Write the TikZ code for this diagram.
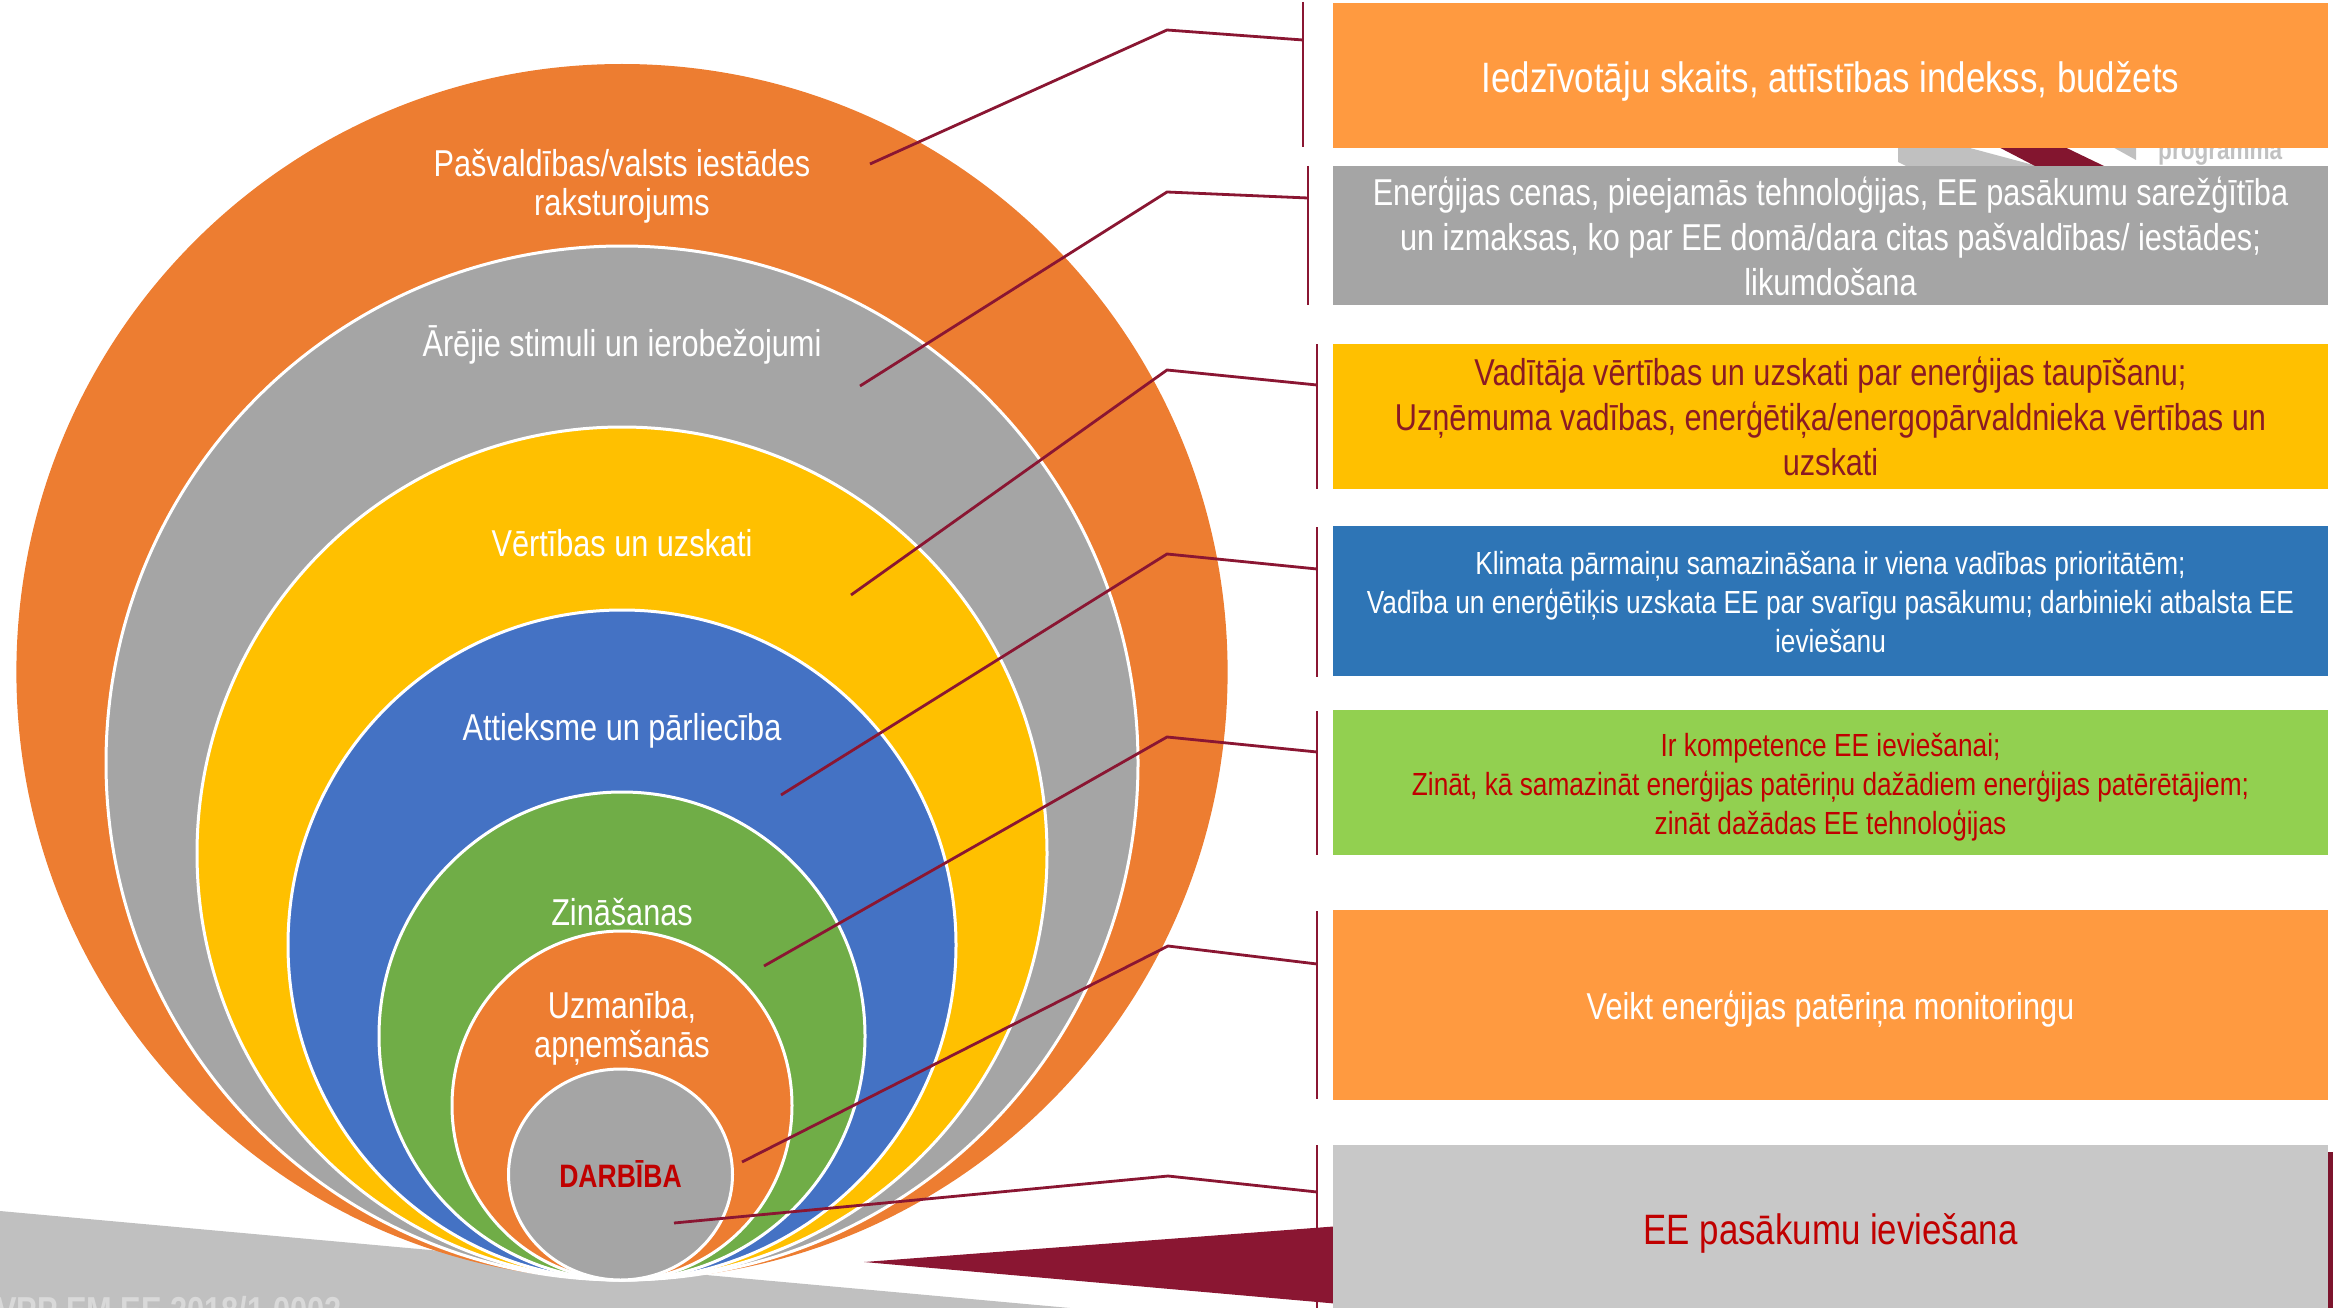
\documentclass[tikz,border=0pt]{standalone}
\usepackage{fontspec}
\setmainfont[FakeStretch=0.82]{Liberation Sans}
\definecolor{ringorange}{HTML}{ED7D31}
\definecolor{ringgray}{HTML}{A5A5A5}
\definecolor{ringyellow}{HTML}{FFC000}
\definecolor{ringblue}{HTML}{4472C4}
\definecolor{ringgreen}{HTML}{70AD47}
\definecolor{boxorange}{HTML}{FF9A40}
\definecolor{boxblue}{HTML}{2E75B6}
\definecolor{boxgreen}{HTML}{92D050}
\definecolor{boxlight}{HTML}{C8C8C8}
\definecolor{maroon}{HTML}{8A1632}
\definecolor{yellowtext}{HTML}{8A1A24}
\definecolor{redtext}{HTML}{C00000}
\definecolor{band}{HTML}{C0C0C0}
\tikzset{
  ring/.style={draw=white,line width=3pt},
  ringlabel/.style={text=white,align=center,inner sep=0pt,font=\fontsize{37.4}{39}\selectfont},
  infobox/.style={rectangle,inner sep=0pt,minimum width=995pt},
  boxtext/.style={inner sep=0pt,align=center},
  leader/.style={draw=maroon,line width=2.8pt},
  barline/.style={draw=maroon,line width=2.4pt},
}
\begin{document}
\begin{tikzpicture}[x=1pt,y=-1pt]
\useasboundingbox (0,0) rectangle (2333,1308);
% background slide
\fill[band] (0,1211) -- (1070,1308) -- (0,1308) -- cycle;
\fill[maroon] (864,1262) -- (1340,1226) -- (1340,1304) -- cycle;
\fill[band] (1898,140) -- (1940,140) -- (2037,166) -- (1906,166) -- (1898,162) -- cycle;
\fill[maroon!95!black] (1985,140) -- (2050,140) -- (2104,166) -- (2035,166) -- cycle;
\fill[band] (2100,140) -- (2136,140) -- (2136,160) -- cycle;
\fill[maroon!90!black] (2328,1152) rectangle (2333,1308);
\node[anchor=base west,inner sep=0pt,text=band,font=\fontsize{27.5}{30}\selectfont\bfseries] (logotext) at (2158,159.5) {programma};
\node[anchor=base west,inner sep=0pt,text=white!85!black,font=\fontsize{37.5}{40}\selectfont\bfseries] (grant) at (-4,1323) {VPP EM EE 2018/1 0002};
% rings
\fill[ringorange] (622,672) ellipse [x radius=605.6,y radius=608];
\draw[ring,fill=ringgray] (622,763) ellipse [x radius=516,y radius=517];
\draw[ring,fill=ringyellow] (622,853.5) ellipse [x radius=425,y radius=426.5];
\draw[ring,fill=ringblue] (622,945) ellipse [x radius=334,y radius=335];
\draw[ring,fill=ringgreen] (622,1036) ellipse [x radius=243,y radius=244];
\draw[ring,fill=ringorange] (622,1105.5) ellipse [x radius=170,y radius=174.5];
\draw[ring,fill=ringgray] (620.5,1174.5) ellipse [x radius=112,y radius=105.5];
% ring labels
\node[ringlabel] (l1) at (622,186) {Pašvaldības/valsts iestādes\\raksturojums};
\node[ringlabel] (l2) at (622,345) {Ārējie stimuli un ierobežojumi};
\node[ringlabel] (l3) at (622,543) {Vērtības un uzskati};
\node[ringlabel] (l4) at (622,731) {Attieksme un pārliecība};
\node[ringlabel] (l5) at (622,912) {Zināšanas};
\node[ringlabel] (l6) at (622,1028) {Uzmanība,\\apņemšanās};
\node[ringlabel,text=redtext,font=\fontsize{32.4}{36}\selectfont\bfseries] (l7) at (620.5,1174) {DARBĪBA};
% boxes
\node[infobox,fill=boxorange,minimum height=145pt] (b1) at (1830.5,75.5) {};
\node[infobox,fill=ringgray,minimum height=139pt] (b2) at (1830.5,235.5) {};
\node[infobox,fill=ringyellow,minimum height=145pt] (b3) at (1830.5,416) {};
\node[infobox,fill=boxblue,minimum height=150pt] (b4) at (1830.5,600.5) {};
\node[infobox,fill=boxgreen,minimum height=145pt] (b5) at (1830.5,782.5) {};
\node[infobox,fill=boxorange,minimum height=190pt] (b6) at (1830.5,1005) {};
\node[infobox,fill=boxlight,minimum height=170pt] (b7) at (1830.5,1230) {};
\node[boxtext,text=white,font=\fontsize{42.5}{48}\selectfont] (x1) at ([yshift=-6pt]b1.center) {Iedzīvotāju skaits, attīstības indekss, budžets};
\node[boxtext,text=white,font=\fontsize{37.4}{45}\selectfont] (x2) at ([yshift=-1pt]b2.center) {Enerģijas cenas, pieejamās tehnoloģijas, EE pasākumu sarežģītība\\un izmaksas, ko par EE domā/dara citas pašvaldības/ iestādes;\\likumdošana};
\node[boxtext,text=yellowtext,font=\fontsize{37.4}{45}\selectfont] (x3) at (b3.center) {Vadītāja vērtības un uzskati par enerģijas taupīšanu;\\Uzņēmuma vadības, enerģētiķa/energopārvaldnieka vērtības un\\uzskati};
\node[boxtext,text=white,font=\fontsize{32}{39}\selectfont] (x4) at ([yshift=-2pt]b4.center) {Klimata pārmaiņu samazināšana ir viena vadības prioritātēm;\\Vadība un enerģētiķis uzskata EE par svarīgu pasākumu; darbinieki atbalsta EE\\ieviešanu};
\node[boxtext,text=redtext,font=\fontsize{32}{39}\selectfont] (x5) at ([yshift=-4.5pt]b5.center) {Ir kompetence EE ieviešanai;\\Zināt, kā samazināt enerģijas patēriņu dažādiem enerģijas patērētājiem;\\zināt dažādas EE tehnoloģijas};
\node[boxtext,text=white,font=\fontsize{37.4}{45}\selectfont] (x6) at ([yshift=-4pt]b6.center) {Veikt enerģijas patēriņa monitoringu};
\node[boxtext,text=redtext,font=\fontsize{42.5}{48}\selectfont] (x7) at ([yshift=-3pt]b7.center) {EE pasākumu ieviešana};
% bar end points
\coordinate (t1) at (1303,2);    \coordinate (u1) at (1303,147);
\coordinate (t2) at (1308,166);  \coordinate (u2) at (1308,305);
\coordinate (t3) at (1317,344);  \coordinate (u3) at (1317,489);
\coordinate (t4) at (1317,527);  \coordinate (u4) at (1317,677);
\coordinate (t5) at (1317,711);  \coordinate (u5) at (1317,855);
\coordinate (t6) at (1317,911);  \coordinate (u6) at (1317,1099);
\coordinate (t7) at (1317,1145); \coordinate (u7) at (1317,1308);
\foreach \i in {1,...,7}{\draw[barline] (t\i) -- (u\i);}
% leaders
\coordinate (s1) at (870,164);  \coordinate (e1) at (1167,30);   \coordinate (f1) at (1303,40);
\coordinate (s2) at (860,386);  \coordinate (e2) at (1167,192);  \coordinate (f2) at (1308,198);
\coordinate (s3) at (851,595);  \coordinate (e3) at (1167,370);  \coordinate (f3) at (1317,385);
\coordinate (s4) at (781,795);  \coordinate (e4) at (1167,554);  \coordinate (f4) at (1317,569);
\coordinate (s5) at (764,966);  \coordinate (e5) at (1167,737);  \coordinate (f5) at (1317,752);
\coordinate (s6) at (742,1162); \coordinate (e6) at (1168,946);  \coordinate (f6) at (1317,964);
\coordinate (s7) at (674,1223); \coordinate (e7) at (1168,1176); \coordinate (f7) at (1317,1192);
\foreach \i in {1,...,7}{\draw[leader] (s\i) -- (e\i) -- (f\i);}
\end{tikzpicture}
\end{document}
